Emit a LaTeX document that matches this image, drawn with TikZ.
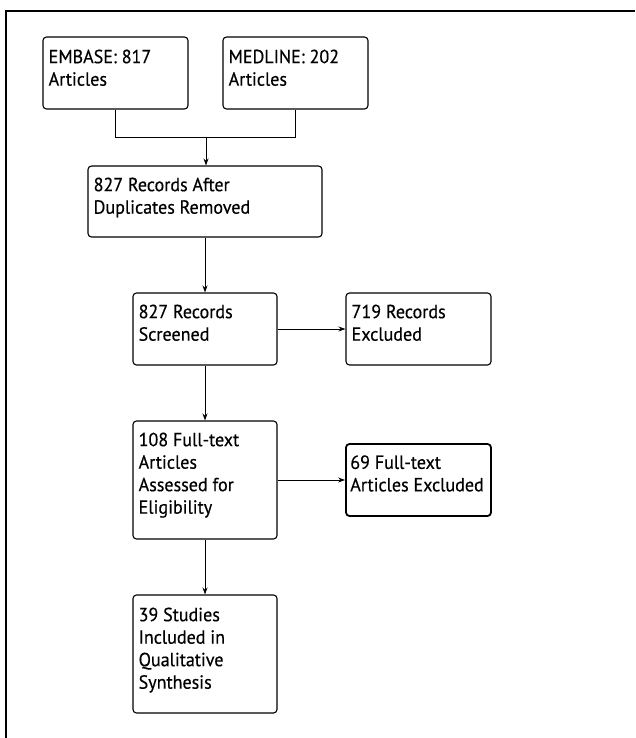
\documentclass[tikz,border=0pt]{standalone}
\usepackage{fontspec}
\setmainfont[FakeStretch=0.95,FakeBold=0.4]{PT Sans}
\usetikzlibrary{arrows.meta}
\begin{document}
\begin{tikzpicture}[x=1pt,y=-1pt,
  box/.style={draw, line width=1.1pt, rounded corners=3.5pt, inner sep=0pt},
  txt/.style={anchor=north west, inner sep=0pt, align=left,
    font=\fontsize{19}{22.5}\selectfont},
  arr/.style={line width=1pt, -{Stealth[length=7pt,width=5pt]}},
  ln/.style={line width=1pt}]
\useasboundingbox (0,0) rectangle (635,738);
\coordinate (fb) at (6,738);
\coordinate (fc) at (6,11);
\coordinate (fr) at (635,11);
\draw[line width=1.2pt] (fb) -- (fc) -- (fr);
% boxes
\node[box, minimum width=145pt, minimum height=72pt] (embase) at (115.5,73) {};
\node[box, minimum width=145pt, minimum height=72pt] (medline) at (295.5,73) {};
\node[box, minimum width=234pt, minimum height=71pt] (dup) at (205,201.5) {};
\node[box, minimum width=144pt, minimum height=72pt] (scr) at (205,329) {};
\node[box, minimum width=145pt, minimum height=72pt] (exc) at (418.5,329) {};
\node[box, minimum width=144pt, minimum height=118pt] (full) at (205,480) {};
\node[box, line width=1.8pt, minimum width=145pt, minimum height=72pt] (fexc) at (418.5,480) {};
\node[box, minimum width=144pt, minimum height=118pt] (inc) at (205,654) {};
% texts
\node[txt] (t1) at ([xshift=6pt,yshift=-13pt]embase.north west) {EMBASE: 817\\Articles};
\node[txt] (t2) at ([xshift=6pt,yshift=-13pt]medline.north west) {MEDLINE: 202\\Articles};
\node[txt] (t3) at ([xshift=6pt,yshift=-12pt]dup.north west) {827 Records After\\Duplicates Removed};
\node[txt] (t4) at ([xshift=6pt,yshift=-12pt]scr.north west) {827 Records\\Screened};
\node[txt] (t5) at ([xshift=6pt,yshift=-12pt]exc.north west) {719 Records\\Excluded};
\node[txt] (t6) at ([xshift=6pt,yshift=-12pt]full.north west) {108 Full-text\\Articles\\Assessed for\\Eligibility};
\node[txt] (t7) at ([xshift=5pt,yshift=-12pt]fexc.north west) {69 Full-text\\Articles Excluded};
\node[txt] (t8) at ([xshift=6pt,yshift=-13pt]inc.north west) {39 Studies\\Included in\\Qualitative\\Synthesis};
% connectors
\coordinate (jn) at (206,138);
\draw[ln] (embase.south) |- (jn);
\draw[ln] (medline.south) |- (jn);
\draw[arr] (jn) -- (dup.north -| jn);
\draw[arr] (dup.south -| scr.north) -- (scr.north);
\draw[arr] (scr.east) -- (exc.west);
\draw[arr] (scr.south) -- (full.north);
\draw[arr] (full.east) -- (fexc.west);
\draw[arr] (full.south) -- (inc.north);
\end{tikzpicture}
\end{document}
